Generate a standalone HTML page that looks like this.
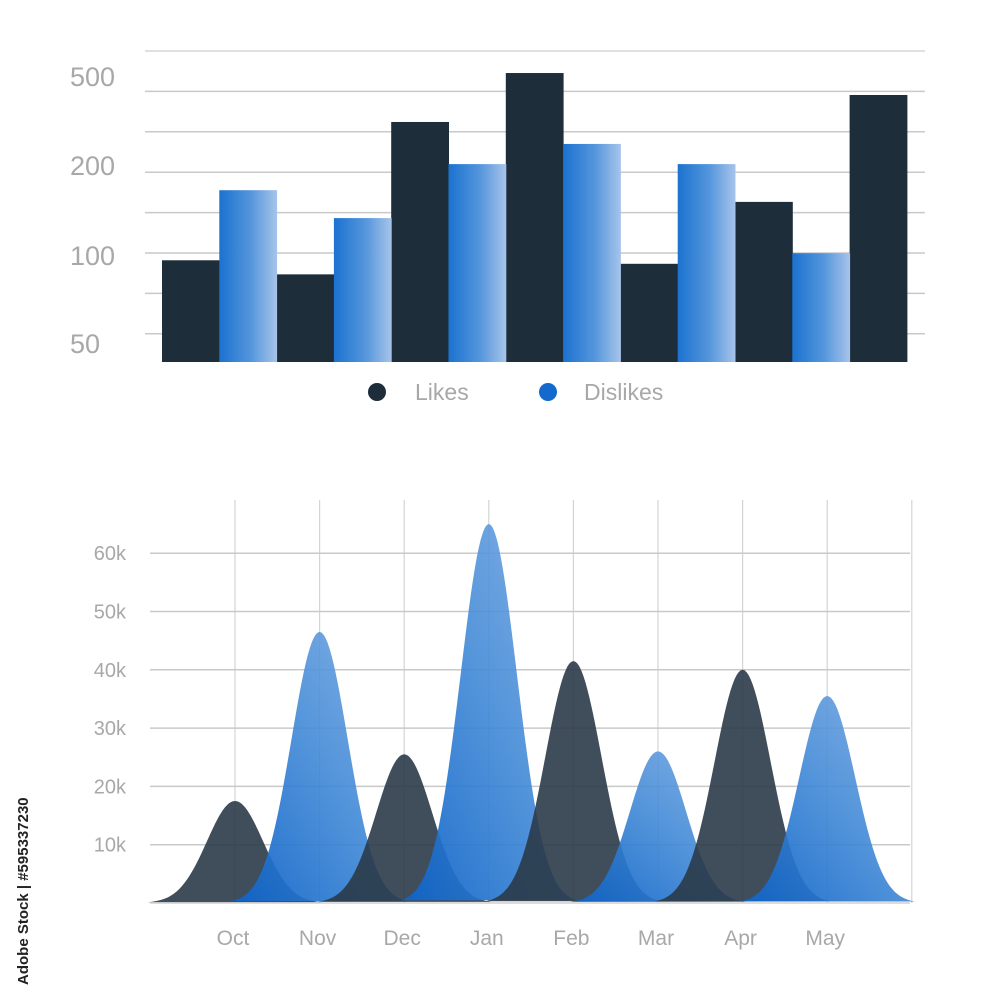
<!DOCTYPE html>
<html><head><meta charset="utf-8"><style>
html,body{margin:0;padding:0;background:#fff;}
svg{display:block;font-family:"Liberation Sans",sans-serif;}
</style></head><body>
<svg id="c" width="1000" height="1000" viewBox="0 0 1000 1000">
<defs>
<linearGradient id="gBar" x1="0" y1="0" x2="1" y2="0"><stop offset="0" stop-color="#1b72d0"/><stop offset="0.55" stop-color="#5596dc"/><stop offset="1" stop-color="#a7c4ea"/></linearGradient>
<linearGradient id="gBlue" x1="0" y1="1" x2="1" y2="0"><stop offset="0" stop-color="#0e63c8" stop-opacity="0.95"/><stop offset="0.5" stop-color="#3f88d6" stop-opacity="0.9"/><stop offset="1" stop-color="#7aaae2" stop-opacity="0.9"/></linearGradient>
</defs>
<g id="topChart"></g>
<g id="bottomChart"></g>
<text x="0" y="0" transform="translate(28,985) rotate(-90)" font-size="15" font-weight="bold" fill="#222">Adobe Stock | #595337230</text>
</svg>
<script>
// ---- top bar chart data ----
const barTickLabels = ["50","100","200","500"];
const barTickValues = [50,100,200,500];
const likes = [97,89,345,510,95,159,436];
const dislikes = [172,141,203,271,203,102];
// ---- bottom area chart data ----
const months = ["Oct","Nov","Dec","Jan","Feb","Mar","Apr","May"];
const peaks = [17.5,46.5,25.5,65,41.5,26,40,35.5];
const peakSeries = ["dark","blue","dark","blue","dark","blue","dark","blue"];
const areaTicks = [10,20,30,40,50,60];

const NS="http://www.w3.org/2000/svg";
function mk(tag,attrs,parent){const e=document.createElementNS(NS,tag);for(const k in attrs)e.setAttribute(k,attrs[k]);parent.appendChild(e);return e;}

// top chart
const topG=document.getElementById('topChart');
const tickY=[343,255,165,76];
function yBar(v){
  for(let i=0;i<barTickValues.length-1;i++){
    if(v<=barTickValues[i+1]||i===barTickValues.length-2){
      const a=barTickValues[i],b=barTickValues[i+1];
      return tickY[i]+(v-a)/(b-a)*(tickY[i+1]-tickY[i]);
    }
  }
}
for(let i=0;i<8;i++){
  const y=51+i*40.4;
  const l=mk('line',{x1:145,x2:925,y1:y,y2:y,stroke:i===0?'#d6d6d6':'#c9c9c9','stroke-width':1.5},topG);
  
  
}
barTickLabels.forEach((t,i)=>{
  const e=mk('text',{x:70,y:tickY[i]+10,'font-size':27,fill:'#a8a8a8'},topG);
  e.textContent=t;
  
  
});
const base=362,bw=57.3,x0=162;
likes.forEach((v,i)=>{
  const x=x0+i*2*bw,y=yBar(v);
  const r=mk('rect',{x:x,y:y,width:bw+0.5,height:base-y,fill:'#1e2d3a'},topG);
  
  
});
dislikes.forEach((v,i)=>{
  const x=x0+(i*2+1)*bw,y=yBar(v);
  const r=mk('rect',{x:x,y:y,width:bw+0.5,height:base-y,fill:'url(#gBar)'},topG);
  
  
});
[[377,'#1e2d3a','Likes',415],[548,'#1469cc','Dislikes',584]].forEach(d=>{
  const g=mk('g',{},topG);
  
  
  mk('circle',{cx:d[0],cy:392,r:9,fill:d[1]},g);
  const t=mk('text',{x:d[3],y:400,'font-size':23,fill:'#a8a8a8'},g);
  t.textContent=d[2];
});

// bottom chart
const botG=document.getElementById('bottomChart');
const by0=903, perK=5.83;
function yA(v){return by0-v*perK;}
function xA(i){return 235+i*84.6;}
for(let i=0;i<=months.length;i++){
  const x=xA(i);
  const l=mk('line',{x1:x,x2:x,y1:500,y2:by0,stroke:'#d4d4d4','stroke-width':1.2},botG);
  
  
}
areaTicks.forEach(t=>{
  const y=yA(t);
  const l=mk('line',{x1:150,x2:910,y1:y,y2:y,stroke:'#c9c9c9','stroke-width':1.5},botG);
  
  
  const e=mk('text',{x:126,y:y+7,'font-size':20,fill:'#a8a8a8','text-anchor':'end'},botG);
  e.textContent=t+'k';
  
  
});
const sig=28;
peaks.forEach((p,i)=>{
  const cx=xA(i);let d='';
  for(let dx=-88;dx<=88;dx+=2){
    const v=p*Math.exp(-dx*dx/(2*sig*sig));
    d+=(dx===-88?'M':'L')+(cx+dx).toFixed(1)+','+yA(v).toFixed(1);
  }
  d+='Z';
  const dark=peakSeries[i]==='dark';
  const path=mk('path',{d:d,fill:dark?'#2b3a48':'url(#gBlue)','fill-opacity':dark?0.9:1},botG);
  
  
});
const bl=mk('line',{x1:150,x2:910,y1:by0,y2:by0,stroke:'#d0d0d0','stroke-width':1.5},botG);


months.forEach((m,i)=>{
  const e=mk('text',{x:xA(i)-2,y:945,'font-size':21,fill:'#a8a8a8','text-anchor':'middle'},botG);
  e.textContent=m;
  
  
});
</script>
</body></html>
